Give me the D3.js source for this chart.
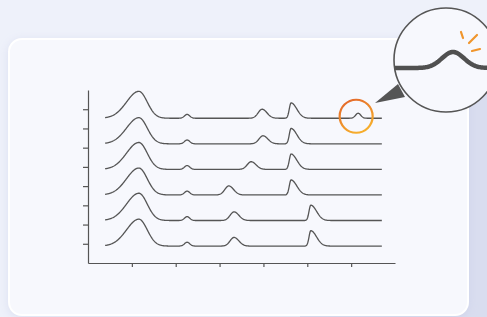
<!DOCTYPE html>
<html>
<head>
<meta charset="utf-8">
<script src="https://cdn.jsdelivr.net/npm/d3@7"></script>
<style>
  html, body { margin: 0; padding: 0; background: #eef1fa; }
  svg { display: block; }
</style>
</head>
<body>
<script>
var w = 487;
var h = 317;

// stacked spectra, top trace first
var traceOffsets = [7.53, 6.2, 4.87, 3.54, 2.21, 0.88];
var mainPeakPos = [1.16, 1.16, 1.16, 1.16, 1.16, 1.16];
var mainPeakHeight = [1.4, 1.36, 1.4, 1.4, 1.42, 1.4];
var smallPeakPos = [2.26, 2.26, 2.26, 2.26, 2.26, 2.26];
var smallPeakHeight = [0.2, 0.2, 0.2, 0.2, 0.2, 0.2];
var midPeakPos = [3.97, 3.99, 3.72, 3.21, 3.33, 3.33];
var midPeakHeight = [0.47, 0.42, 0.4, 0.47, 0.45, 0.45];
var sharpPeakPos = [4.63, 4.63, 4.63, 4.63, 5.08, 5.08];
var sharpPeakHeight = [0.8, 0.8, 0.8, 0.78, 0.8, 0.8];
var tinyPeakPos = [6.16, null, null, null, null, null];
var tinyPeakHeight = [0.26, 0, 0, 0, 0, 0];

var xTicks = [1, 2, 3, 4, 5, 6];
var yTicks = [1, 2, 3, 4, 5, 6, 7, 8];

var svg = d3.select("body").append("svg")
    .attr("width", w)
    .attr("height", h);

var defs = svg.append("defs");

var shadow = defs.append("filter")
    .attr("id", "cardShadow")
    .attr("x", "-10%").attr("y", "-10%")
    .attr("width", "120%").attr("height", "120%");
shadow.append("feDropShadow")
    .attr("dx", 0).attr("dy", 2)
    .attr("stdDeviation", 5)
    .attr("flood-color", "#c3c9e6")
    .attr("flood-opacity", 0.45);

var ring = defs.append("linearGradient")
    .attr("id", "ringGrad")
    .attr("x1", 0).attr("y1", 0)
    .attr("x2", 0.5).attr("y2", 1);
ring.append("stop").attr("offset", "0%").attr("stop-color", "#e2622b");
ring.append("stop").attr("offset", "100%").attr("stop-color", "#f6ad2c");

defs.append("clipPath").attr("id", "lensClip")
  .append("circle")
    .attr("cx", 446).attr("cy", 60).attr("r", 52);

// page background + panel behind the card
svg.append("rect")
    .attr("width", w).attr("height", h)
    .attr("fill", "#eef1fa");

svg.append("rect")
    .attr("x", 300).attr("y", 60)
    .attr("width", 240).attr("height", 300)
    .attr("rx", 14)
    .attr("fill", "#d9ddef");

svg.append("rect")
    .attr("x", 9).attr("y", 39)
    .attr("width", 459).attr("height", 276)
    .attr("rx", 13)
    .attr("fill", "#f7f8fd")
    .attr("stroke", "#ffffff")
    .attr("stroke-width", 2)
    .attr("filter", "url(#cardShadow)");

// scales
var x = d3.scaleLinear().domain([0, 7]).range([88, 395]);
var y = d3.scaleLinear().domain([0, 9]).range([263, 90]);

function bump(t, pos, height, left, right) {
  if (pos == null) return 0;
  var s = t < pos ? left : right;
  var d = (t - pos) / s;
  return height * Math.exp(-0.5 * d * d);
}

function traceValue(i, t) {
  return traceOffsets[i]
    + bump(t, mainPeakPos[i], mainPeakHeight[i], 0.28, 0.19)
    + bump(t, smallPeakPos[i], smallPeakHeight[i], 0.06, 0.06)
    + bump(t, midPeakPos[i], midPeakHeight[i], 0.09, 0.11)
    + bump(t, sharpPeakPos[i], sharpPeakHeight[i], 0.04, 0.13)
    + bump(t, tinyPeakPos[i], tinyPeakHeight[i], 0.06, 0.06);
}

var samples = d3.range(0.39, 6.705, 0.01);

var line = d3.line()
    .x(function(d) { return x(d[0]); })
    .y(function(d) { return y(d[1]); });

svg.append("g")
  .selectAll("path")
  .data(traceOffsets)
  .join("path")
    .attr("d", function(d, i) {
      return line(samples.map(function(t) { return [t, traceValue(i, t)]; }));
    })
    .attr("fill", "none")
    .attr("stroke", "#555555")
    .attr("stroke-width", 1.3);

// axes
var yAxis = svg.append("g")
    .attr("transform", "translate(88,0)")
    .call(d3.axisLeft(y).tickValues(yTicks).tickFormat("").tickSize(5).tickSizeOuter(0));
var xAxis = svg.append("g")
    .attr("transform", "translate(0,263)")
    .call(d3.axisBottom(x).tickValues(xTicks).tickFormat("").tickSize(4).tickSizeOuter(0));
[xAxis, yAxis].forEach(function(g) {
  g.selectAll("path, line").attr("stroke", "#555555").attr("stroke-width", 1.2);
});

// highlight ring around the tiny peak
svg.append("circle")
    .attr("cx", x(tinyPeakPos[0]) - 2)
    .attr("cy", y(traceOffsets[0]) - 2)
    .attr("r", 16.5)
    .attr("fill", "none")
    .attr("stroke", "url(#ringGrad)")
    .attr("stroke-width", 2.2);

// pointer
svg.append("path")
    .attr("d", "M375,103L398,84L405,97Z")
    .attr("fill", "#555555");

// magnifier lens
svg.append("circle")
    .attr("cx", 446).attr("cy", 60).attr("r", 52)
    .attr("fill", "#f7f8fd");

var mx = d3.scaleLinear()
    .domain([tinyPeakPos[0] - 0.35, tinyPeakPos[0] + 0.35])
    .range([453 - 0.35 * 184, 453 + 0.35 * 184]);
var my = d3.scaleLinear()
    .domain([traceOffsets[0], traceOffsets[0] + tinyPeakHeight[0]])
    .range([68, 52]);
var zoomSamples = d3.range(tinyPeakPos[0] - 0.35, tinyPeakPos[0] + 0.35, 0.005);

svg.append("path")
    .attr("clip-path", "url(#lensClip)")
    .attr("d", d3.line()
      .x(function(d) { return mx(d); })
      .y(function(d) { return my(traceValue(0, d)); })(zoomSamples))
    .attr("fill", "none")
    .attr("stroke", "#505050")
    .attr("stroke-width", 4.5)
    .attr("stroke-linejoin", "round");

svg.append("circle")
    .attr("cx", 446).attr("cy", 60).attr("r", 52)
    .attr("fill", "none")
    .attr("stroke", "#555555")
    .attr("stroke-width", 1.6);

// little orange sparks
var sparks = [[461, 32, 463, 38], [477, 35, 469, 43], [472, 51, 480, 49]];
svg.append("g")
  .selectAll("line")
  .data(sparks)
  .join("line")
    .attr("x1", function(d) { return d[0]; })
    .attr("y1", function(d) { return d[1]; })
    .attr("x2", function(d) { return d[2]; })
    .attr("y2", function(d) { return d[3]; })
    .attr("stroke", "#f0952c")
    .attr("stroke-width", 2.2)
    .attr("stroke-linecap", "round");
</script>
</body>
</html>
